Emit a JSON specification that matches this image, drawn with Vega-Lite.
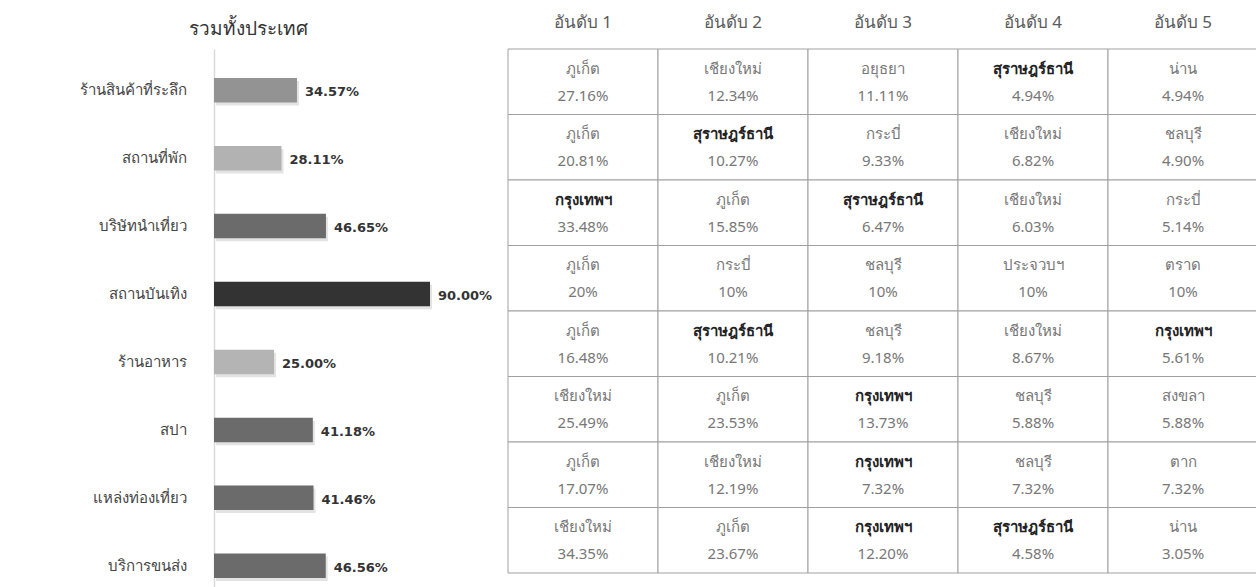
{
  "$schema": "https://vega.github.io/schema/vega-lite/v6.json",
  "background": "white",
  "padding": {"left": 79, "top": 13, "right": 0, "bottom": 0},
  "spacing": 14,
  "datasets": {
    "bars": [
      {"cat": "ร้านสินค้าที่ระลึก", "v": 0.3457},
      {"cat": "สถานที่พัก", "v": 0.2811},
      {"cat": "บริษัทนำเที่ยว", "v": 0.4665},
      {"cat": "สถานบันเทิง", "v": 0.9},
      {"cat": "ร้านอาหาร", "v": 0.25},
      {"cat": "สปา", "v": 0.4118},
      {"cat": "แหล่งท่องเที่ยว", "v": 0.4146},
      {"cat": "บริการขนส่ง", "v": 0.4656}
    ],
    "table": [
      {"cat": "ร้านสินค้าที่ระลึก", "rank": "อันดับ 1", "name": "ภูเก็ต", "pct": "27.16%"},
      {"cat": "ร้านสินค้าที่ระลึก", "rank": "อันดับ 2", "name": "เชียงใหม่", "pct": "12.34%"},
      {"cat": "ร้านสินค้าที่ระลึก", "rank": "อันดับ 3", "name": "อยุธยา", "pct": "11.11%"},
      {"cat": "ร้านสินค้าที่ระลึก", "rank": "อันดับ 4", "name": "สุราษฎร์ธานี", "pct": "4.94%"},
      {"cat": "ร้านสินค้าที่ระลึก", "rank": "อันดับ 5", "name": "น่าน", "pct": "4.94%"},
      {"cat": "สถานที่พัก", "rank": "อันดับ 1", "name": "ภูเก็ต", "pct": "20.81%"},
      {"cat": "สถานที่พัก", "rank": "อันดับ 2", "name": "สุราษฎร์ธานี", "pct": "10.27%"},
      {"cat": "สถานที่พัก", "rank": "อันดับ 3", "name": "กระบี่", "pct": "9.33%"},
      {"cat": "สถานที่พัก", "rank": "อันดับ 4", "name": "เชียงใหม่", "pct": "6.82%"},
      {"cat": "สถานที่พัก", "rank": "อันดับ 5", "name": "ชลบุรี", "pct": "4.90%"},
      {"cat": "บริษัทนำเที่ยว", "rank": "อันดับ 1", "name": "กรุงเทพฯ", "pct": "33.48%"},
      {"cat": "บริษัทนำเที่ยว", "rank": "อันดับ 2", "name": "ภูเก็ต", "pct": "15.85%"},
      {"cat": "บริษัทนำเที่ยว", "rank": "อันดับ 3", "name": "สุราษฎร์ธานี", "pct": "6.47%"},
      {"cat": "บริษัทนำเที่ยว", "rank": "อันดับ 4", "name": "เชียงใหม่", "pct": "6.03%"},
      {"cat": "บริษัทนำเที่ยว", "rank": "อันดับ 5", "name": "กระบี่", "pct": "5.14%"},
      {"cat": "สถานบันเทิง", "rank": "อันดับ 1", "name": "ภูเก็ต", "pct": "20%"},
      {"cat": "สถานบันเทิง", "rank": "อันดับ 2", "name": "กระบี่", "pct": "10%"},
      {"cat": "สถานบันเทิง", "rank": "อันดับ 3", "name": "ชลบุรี", "pct": "10%"},
      {"cat": "สถานบันเทิง", "rank": "อันดับ 4", "name": "ประจวบฯ", "pct": "10%"},
      {"cat": "สถานบันเทิง", "rank": "อันดับ 5", "name": "ตราด", "pct": "10%"},
      {"cat": "ร้านอาหาร", "rank": "อันดับ 1", "name": "ภูเก็ต", "pct": "16.48%"},
      {"cat": "ร้านอาหาร", "rank": "อันดับ 2", "name": "สุราษฎร์ธานี", "pct": "10.21%"},
      {"cat": "ร้านอาหาร", "rank": "อันดับ 3", "name": "ชลบุรี", "pct": "9.18%"},
      {"cat": "ร้านอาหาร", "rank": "อันดับ 4", "name": "เชียงใหม่", "pct": "8.67%"},
      {"cat": "ร้านอาหาร", "rank": "อันดับ 5", "name": "กรุงเทพฯ", "pct": "5.61%"},
      {"cat": "สปา", "rank": "อันดับ 1", "name": "เชียงใหม่", "pct": "25.49%"},
      {"cat": "สปา", "rank": "อันดับ 2", "name": "ภูเก็ต", "pct": "23.53%"},
      {"cat": "สปา", "rank": "อันดับ 3", "name": "กรุงเทพฯ", "pct": "13.73%"},
      {"cat": "สปา", "rank": "อันดับ 4", "name": "ชลบุรี", "pct": "5.88%"},
      {"cat": "สปา", "rank": "อันดับ 5", "name": "สงขลา", "pct": "5.88%"},
      {"cat": "แหล่งท่องเที่ยว", "rank": "อันดับ 1", "name": "ภูเก็ต", "pct": "17.07%"},
      {"cat": "แหล่งท่องเที่ยว", "rank": "อันดับ 2", "name": "เชียงใหม่", "pct": "12.19%"},
      {"cat": "แหล่งท่องเที่ยว", "rank": "อันดับ 3", "name": "กรุงเทพฯ", "pct": "7.32%"},
      {"cat": "แหล่งท่องเที่ยว", "rank": "อันดับ 4", "name": "ชลบุรี", "pct": "7.32%"},
      {"cat": "แหล่งท่องเที่ยว", "rank": "อันดับ 5", "name": "ตาก", "pct": "7.32%"},
      {"cat": "บริการขนส่ง", "rank": "อันดับ 1", "name": "เชียงใหม่", "pct": "34.35%"},
      {"cat": "บริการขนส่ง", "rank": "อันดับ 2", "name": "ภูเก็ต", "pct": "23.67%"},
      {"cat": "บริการขนส่ง", "rank": "อันดับ 3", "name": "กรุงเทพฯ", "pct": "12.20%"},
      {"cat": "บริการขนส่ง", "rank": "อันดับ 4", "name": "สุราษฎร์ธานี", "pct": "4.58%"},
      {"cat": "บริการขนส่ง", "rank": "อันดับ 5", "name": "น่าน", "pct": "3.05%"}
    ]
  },
  "hconcat": [
    {
      "width": 240,
      "height": 558,
      "title": {"text": "รวมทั้งประเทศ", "frame": "bounds", "anchor": "middle", "dx": -37, "fontSize": 19, "fontWeight": "normal", "color": "#333333", "offset": 10},
      "data": {"name": "bars"},
      "encoding": {
        "y": {
          "field": "cat", "type": "nominal",
          "sort": ["ร้านสินค้าที่ระลึก", "สถานที่พัก", "บริษัทนำเที่ยว", "สถานบันเทิง", "ร้านอาหาร", "สปา", "แหล่งท่องเที่ยว", "บริการขนส่ง"],
          "scale": {"paddingInner": 0.64, "paddingOuter": 0.427},
          "axis": {"title": null, "ticks": false, "labelPadding": 28, "labelFontSize": 15, "labelColor": "#444444", "domainColor": "#d9d9d9", "domainWidth": 1.5, "labelLimit": 300}
        },
        "x": {"field": "v", "type": "quantitative", "scale": {"domain": [0, 1]}, "axis": null}
      },
      "layer": [
        {"mark": {"type": "bar", "color": "#cccccc", "opacity": 0.55, "xOffset": 2, "yOffset": 3}},
        {
          "mark": {"type": "bar"},
          "encoding": {
            "color": {
              "field": "cat", "type": "nominal", "legend": null,
              "scale": {
                "domain": ["ร้านสินค้าที่ระลึก", "สถานที่พัก", "บริษัทนำเที่ยว", "สถานบันเทิง", "ร้านอาหาร", "สปา", "แหล่งท่องเที่ยว", "บริการขนส่ง"],
                "range": ["#939393", "#b2b2b2", "#6b6b6b", "#333333", "#b4b4b4", "#6b6b6b", "#6b6b6b", "#6b6b6b"]
              }
            }
          }
        },
        {
          "mark": {"type": "text", "align": "left", "baseline": "middle", "dx": 8, "dy": 2, "fontSize": 13, "fontWeight": "bold", "color": "#333333", "font": "DejaVu Sans"},
          "encoding": {"text": {"field": "v", "type": "quantitative", "format": ".2%"}}
        }
      ]
    },
    {
      "width": 750,
      "height": 524,
      "data": {"name": "table"},
      "encoding": {
        "x": {
          "field": "rank", "type": "ordinal",
          "scale": {"paddingInner": 0, "paddingOuter": 0},
          "axis": {"orient": "top", "title": null, "ticks": false, "domain": false, "labelAngle": 0, "labelFontSize": 17, "labelPadding": 18, "labelColor": "#5a5a5a"}
        },
        "y": {
          "field": "cat", "type": "ordinal",
          "sort": ["ร้านสินค้าที่ระลึก", "สถานที่พัก", "บริษัทนำเที่ยว", "สถานบันเทิง", "ร้านอาหาร", "สปา", "แหล่งท่องเที่ยว", "บริการขนส่ง"],
          "scale": {"paddingInner": 0, "paddingOuter": 0},
          "axis": null
        }
      },
      "layer": [
        {"mark": {"type": "rect", "fill": "white", "stroke": "#a0a0a0", "strokeWidth": 1}},
        {
          "transform": [{"filter": "datum.name !== 'กรุงเทพฯ' && datum.name !== 'สุราษฎร์ธานี'"}],
          "mark": {"type": "text", "baseline": "middle", "yOffset": -13, "fontSize": 15, "color": "#777777"},
          "encoding": {"text": {"field": "name"}}
        },
        {
          "transform": [{"filter": "datum.name === 'กรุงเทพฯ' || datum.name === 'สุราษฎร์ธานี'"}],
          "mark": {"type": "text", "baseline": "middle", "yOffset": -13, "fontSize": 15, "fontWeight": "bold", "color": "#222222"},
          "encoding": {"text": {"field": "name"}}
        },
        {
          "mark": {"type": "text", "baseline": "middle", "yOffset": 14, "fontSize": 15, "color": "#777777"},
          "encoding": {"text": {"field": "pct"}}
        }
      ]
    }
  ],
  "config": {
    "view": {"stroke": null},
    "font": "Tahoma, 'Noto Sans', 'DejaVu Sans', sans-serif"
  }
}
